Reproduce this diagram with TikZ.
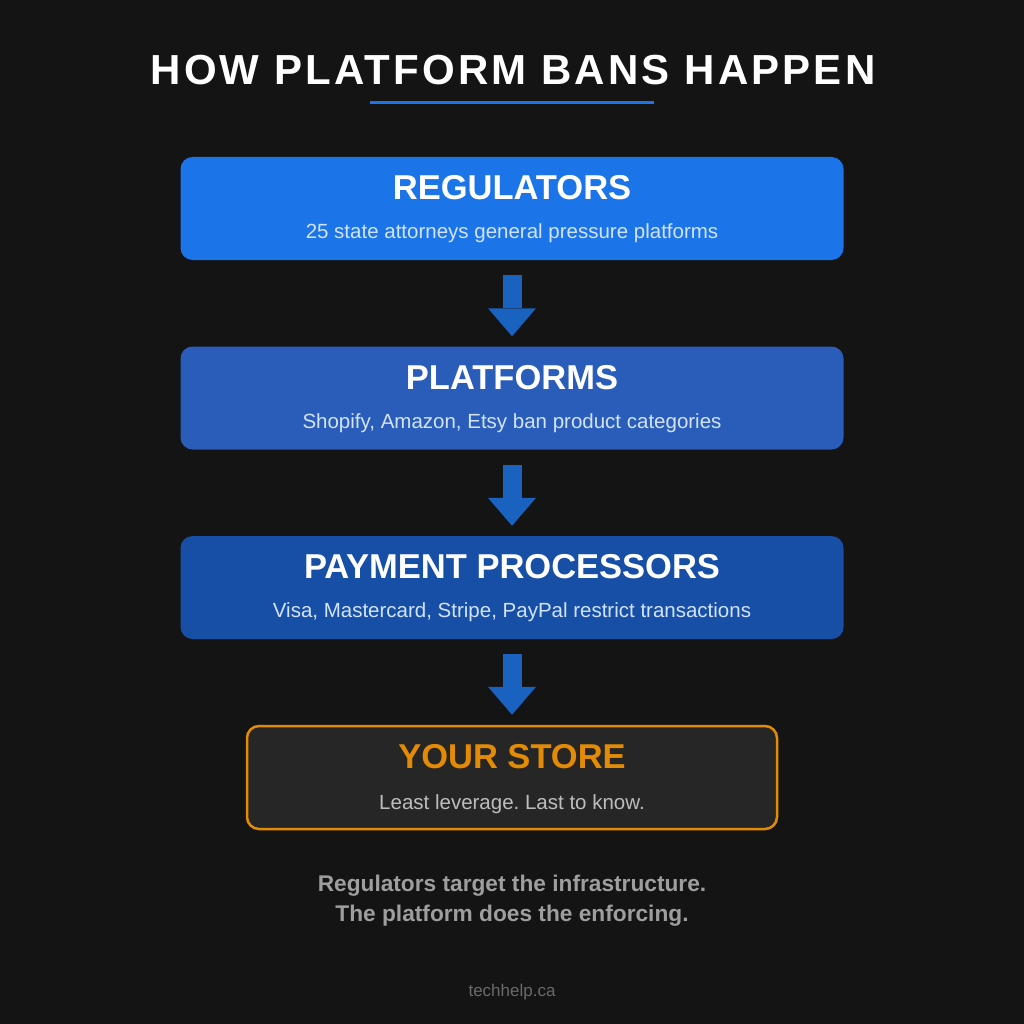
\documentclass[tikz,border=0pt]{standalone}
\usepackage{fontspec}
\setmainfont{Liberation Sans}
\newfontfamily\titlefont[LetterSpace=7.5]{Liberation Sans}
\usetikzlibrary{arrows.meta,calc}
\frenchspacing
\definecolor{bg}{HTML}{141414}
\definecolor{blueA}{HTML}{1B74E8}
\definecolor{blueB}{HTML}{2A5DBA}
\definecolor{blueC}{HTML}{184FA6}
\definecolor{arrowc}{HTML}{1A62C0}
\definecolor{subblue}{HTML}{D2E3FC}
\definecolor{storebg}{HTML}{262626}
\definecolor{orange}{HTML}{E38B06}
\definecolor{storesub}{HTML}{BDBDBD}
\definecolor{note}{HTML}{9E9E9E}
\definecolor{foot}{HTML}{6A6A6A}
\tikzset{
  box/.style={rounded corners=12pt, minimum width=663pt, minimum height=103pt, inner sep=0pt, draw=none},
  boxtitle/.style={anchor=base, inner sep=0pt, text=white, font=\fontsize{34.5}{40}\selectfont\bfseries},
  boxsub/.style={anchor=base, inner sep=0pt, text=subblue, font=\fontsize{20.5}{24}\selectfont\frenchspacing},
  flow/.style={draw=arrowc, line width=19pt, shorten <=15pt, shorten >=10pt,
    -{Triangle[width=48pt,length=28pt,line width=0pt]}},
}
\begin{document}
\begin{tikzpicture}[x=1pt,y=-1pt]
\fill[bg] (0,0) rectangle (1024,1024);
\useasboundingbox (0,0) rectangle (1024,1024);

\node[anchor=base, inner sep=0pt, text=white, font=\titlefont\fontsize{42}{48}\selectfont\bfseries] (title) at (513,85) {HOW PLATFORM BANS HAPPEN};
\coordinate (ulA) at (370,103);
\coordinate (ulB) at (654,103);
\draw[blueA, line width=3pt] (ulA) -- (ulB);

\node[box, fill=blueA] (b1) at (512,208.5) {};
\node[box, fill=blueB] (b2) at (512,398) {};
\node[box, fill=blueC] (b3) at (512,587.5) {};
\node[box, fill=storebg, draw=orange, line width=2.5pt, minimum width=530pt, minimum height=103pt] (b4) at (512,777.5) {};

\node[boxtitle] (t1) at ($(b1.north)+(0,43)$) {REGULATORS};
\node[boxsub] (s1) at ($(b1.north)+(0,82)$) {25 state attorneys general pressure platforms};
\node[boxtitle] (t2) at ($(b2.north)+(0,43)$) {PLATFORMS};
\node[boxsub] (s2) at ($(b2.north)+(0,82)$) {Shopify, Amazon, Etsy ban product categories};
\node[boxtitle] (t3) at ($(b3.north)+(0,43)$) {PAYMENT PROCESSORS};
\node[boxsub] (s3) at ($(b3.north)+(0,82)$) {Visa, Mastercard, Stripe, PayPal restrict transactions};
\node[boxtitle, text=orange] (t4) at ($(b4.north)+(0,44)$) {YOUR STORE};
\node[boxsub, text=storesub] (s4) at ($(b4.north)+(0,85)$) {Least leverage. Last to know.};

\draw[flow] (b1.south) -- (b2.north);
\draw[flow] (b2.south) -- (b3.north);
\draw[flow] (b3.south) -- (b4.north);

\node[anchor=base, inner sep=0pt, text=note, font=\fontsize{22.7}{26}\selectfont\bfseries] (n1) at (512,891) {Regulators target the infrastructure.};
\node[anchor=base, inner sep=0pt, text=note, font=\fontsize{22.7}{26}\selectfont\bfseries] (n2) at (512,921) {The platform does the enforcing.};
\node[anchor=base, inner sep=0pt, text=foot, font=\fontsize{17}{20}\selectfont] (f) at (512,996) {techhelp.ca};
\end{tikzpicture}
\end{document}
